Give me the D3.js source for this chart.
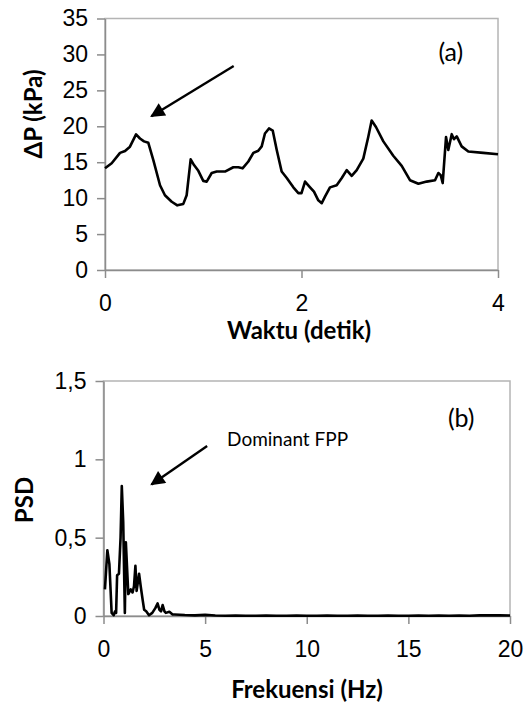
<!DOCTYPE html>
<html>
<head>
<meta charset="utf-8">
<script src="https://cdn.jsdelivr.net/npm/d3@7"></script>
<style>
  body { margin: 0; background: #fff; }
  svg { display: block; font-family: Lato, "Open Sans", sans-serif; }
  .axis path, .axis line { stroke: #8c8c8c; stroke-width: 1.5; }
  .axis text { font-size: 23px; fill: #000; }
  .title { font-weight: bold; font-size: 24px; }
</style>
</head>
<body>
<svg id="chart" width="531" height="702"></svg>
<script>
// (a) pressure drop vs time
var waktu = [0, 0.068, 0.153, 0.204, 0.254, 0.316, 0.356, 0.397, 0.441, 0.492, 0.56, 0.61, 0.679, 0.736, 0.797, 0.831,
  0.872, 0.906, 0.95, 1.0, 1.035, 1.086, 1.137, 1.221, 1.306, 1.357, 1.4, 1.459, 1.51, 1.56, 1.595, 1.628, 1.669, 1.707,
  1.748, 1.798, 1.85, 1.917, 1.968, 2.0, 2.036, 2.087, 2.127, 2.171, 2.206, 2.239, 2.29, 2.358, 2.41, 2.46, 2.511, 2.562,
  2.629, 2.68, 2.714, 2.758, 2.833, 2.934, 3.02, 3.104, 3.19, 3.274, 3.359, 3.393, 3.417, 3.437, 3.471, 3.494, 3.529,
  3.552, 3.58, 3.63, 3.698, 3.85, 4.0];
var deltaP = [14.15, 14.85, 16.3, 16.56, 17.16, 18.88, 18.3, 17.9, 17.7, 15.3, 11.8, 10.4, 9.5, 9.0, 9.2, 10.4,
  15.4, 14.6, 13.8, 12.4, 12.3, 13.5, 13.7, 13.7, 14.3, 14.3, 14.15, 15.1, 16.3, 16.6, 17.2, 19.0, 19.7, 19.4,
  16.7, 13.7, 12.8, 11.5, 10.7, 10.7, 12.3, 11.5, 10.9, 9.7, 9.3, 10.2, 11.5, 11.8, 12.8, 13.9, 13.1, 13.9,
  15.5, 18.55, 20.8, 19.9, 17.9, 15.9, 14.5, 12.5, 12.0, 12.3, 12.5, 13.5, 13.2, 12.1, 18.5, 16.7, 18.9,
  18.2, 18.6, 17.2, 16.5, 16.3, 16.1];
var waktuTicks = [0, 2, 4];
var dpTicks = [0, 5, 10, 15, 20, 25, 30, 35];

// (b) power spectral density
var frek = [0.07, 0.19, 0.29, 0.4, 0.5, 0.57, 0.62, 0.67, 0.76, 0.84, 0.9, 0.97, 1.05, 1.1, 1.22, 1.34, 1.43, 1.5, 1.57,
  1.63, 1.75, 1.83, 1.93, 2.0, 2.1, 2.24, 2.4, 2.55, 2.66, 2.75, 2.83, 2.91, 3.0, 3.07, 3.24, 3.4, 3.5, 4, 4.5, 5,
  5.5, 6, 6.5, 7, 7.5, 8, 8.5, 9, 9.5, 10, 10.5, 11, 11.5, 12, 12.5, 13, 13.5, 14, 14.5, 15, 15.5, 16, 16.5, 17,
  17.5, 18, 18.5, 19, 19.5, 20];
var psd = [0.17, 0.42, 0.33, 0.02, 0.005, 0.03, 0.02, 0.26, 0.27, 0.5, 0.83, 0.6, 0.02, 0.47, 0.14, 0.17, 0.15, 0.19, 0.32,
  0.16, 0.27, 0.19, 0.1, 0.04, 0.03, 0.005, 0.02, 0.05, 0.08, 0.04, 0.03, 0.07, 0.03, 0.02, 0.027, 0.01, 0.01, 0.006,
  0.004, 0.007, 0.003, 0.002, 0.003, 0.002, 0.002, 0.003, 0.002, 0.002, 0.003, 0.002, 0.002, 0.003, 0.002, 0.002,
  0.003, 0.002, 0.002, 0.003, 0.002, 0.002, 0.003, 0.002, 0.003, 0.002, 0.003, 0.002, 0.004, 0.005, 0.004, 0.003];
var frekTicks = [0, 5, 10, 15, 20];
var psdTicks = [0, 0.5, 1, 1.5];

var svg = d3.select("#chart");

// arrow head
svg.append("defs").append("marker")
  .attr("id", "head")
  .attr("viewBox", "0 0 10 10")
  .attr("refX", 9).attr("refY", 5)
  .attr("markerWidth", 7.5).attr("markerHeight", 6)
  .attr("markerUnits", "strokeWidth")
  .attr("orient", "auto")
  .append("path").attr("d", "M0,0 L10,5 L0,10 z").attr("fill", "#000");

function panel(opt) {
  var x = d3.scaleLinear().domain(opt.xDomain).range([opt.left, opt.right]);
  var y = d3.scaleLinear().domain(opt.yDomain).range([opt.bottom, opt.top]);

  // plot area border (top/right)
  svg.append("rect")
    .attr("x", opt.left).attr("y", opt.top)
    .attr("width", opt.right - opt.left).attr("height", opt.bottom - opt.top)
    .attr("fill", "none").attr("stroke", "#b4b4b4").attr("stroke-width", 1.5);

  svg.append("g").attr("class", "axis")
    .attr("transform", "translate(0," + opt.bottom + ")")
    .call(d3.axisBottom(x).tickValues(opt.xTicks).tickSizeInner(8).tickSizeOuter(0).tickPadding(opt.xPad).tickFormat(opt.fmt));

  svg.append("g").attr("class", "axis")
    .attr("transform", "translate(" + opt.left + ",0)")
    .call(d3.axisLeft(y).tickValues(opt.yTicks).tickSizeInner(8).tickSizeOuter(0).tickPadding(opt.yPad).tickFormat(opt.fmt));

  svg.selectAll(".axis text").attr("font-family", null).attr("font-size", null);

  var line = d3.line().x(function(d) { return x(d[0]); }).y(function(d) { return y(d[1]); });
  svg.append("path")
    .datum(d3.zip(opt.xs, opt.ys))
    .attr("d", line)
    .attr("fill", "none").attr("stroke", "#000")
    .attr("stroke-width", 2.6).attr("stroke-linejoin", "round");

  return {x: x, y: y};
}

var fmtComma = function(d) { return String(d).replace(".", ","); };

// ---- (a)
var a = panel({
  left: 105, right: 498, top: 18.5, bottom: 270,
  xDomain: [0, 4], yDomain: [0, 35],
  xTicks: waktuTicks, yTicks: dpTicks,
  xs: waktu, ys: deltaP, fmt: fmtComma, xPad: 17, yPad: 9
});

svg.append("text").attr("class", "title")
  .attr("text-anchor", "middle")
  .attr("transform", "translate(42,114) rotate(-90)")
  .text("ΔP (kPa)");
svg.append("text").attr("class", "title")
  .attr("text-anchor", "middle")
  .attr("x", 299).attr("y", 339)
  .text("Waktu (detik)");
svg.append("text")
  .attr("x", a.x(3.52)).attr("y", a.y(30.2) + 8)
  .attr("text-anchor", "middle").attr("font-size", 25)
  .text("(a)");
svg.append("line")
  .attr("x1", a.x(1.31)).attr("y1", a.y(28.4))
  .attr("x2", a.x(0.472)).attr("y2", a.y(21.4))
  .attr("stroke", "#000").attr("stroke-width", 2.4)
  .attr("marker-end", "url(#head)");

// ---- (b)
var b = panel({
  left: 103.5, right: 510, top: 381, bottom: 616,
  xDomain: [0, 20], yDomain: [0, 1.5],
  xTicks: frekTicks, yTicks: psdTicks,
  xs: frek, ys: psd, fmt: fmtComma, xPad: 17, yPad: 9
});

svg.append("text").attr("class", "title")
  .attr("text-anchor", "middle")
  .attr("transform", "translate(33,500) rotate(-90)")
  .text("PSD");
svg.append("text").attr("class", "title")
  .attr("text-anchor", "middle")
  .attr("x", 307).attr("y", 698)
  .text("Frekuensi (Hz)");
svg.append("text")
  .attr("x", b.x(17.6)).attr("y", b.y(1.26) + 8)
  .attr("text-anchor", "middle").attr("font-size", 25)
  .text("(b)");
svg.append("text")
  .attr("x", b.x(6.08)).attr("y", b.y(1.085))
  .attr("font-size", 19)
  .text("Dominant FPP");
svg.append("line")
  .attr("x1", b.x(5.1)).attr("y1", b.y(1.085))
  .attr("x2", b.x(2.36)).attr("y2", b.y(0.84))
  .attr("stroke", "#000").attr("stroke-width", 2.4)
  .attr("marker-end", "url(#head)");
</script>
</body>
</html>
